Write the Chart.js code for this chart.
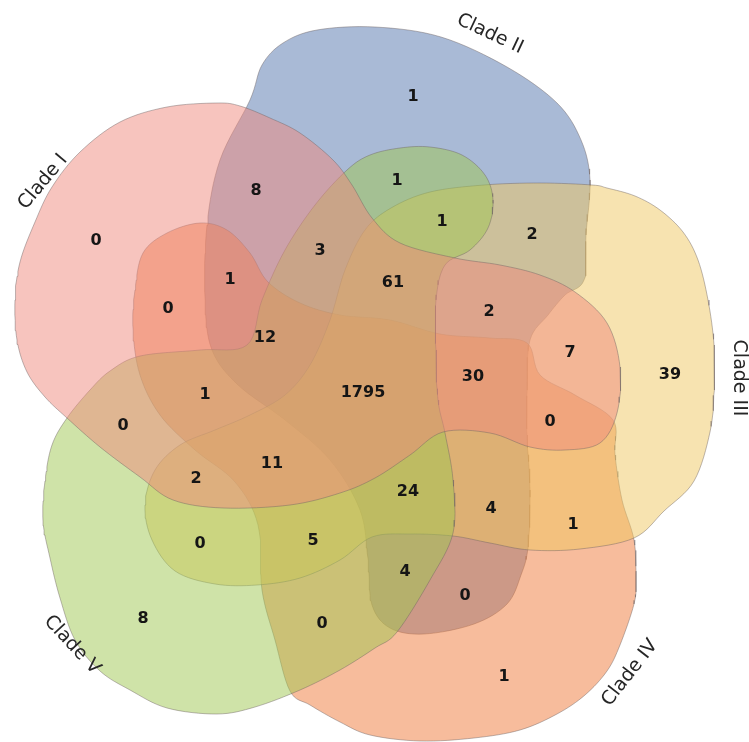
<!DOCTYPE html>
<html><head><meta charset="utf-8">
<script src="https://cdn.jsdelivr.net/npm/chart.js"></script>
<style>html,body{margin:0;padding:0;background:#fff}#wrap{width:749px;height:742px;position:relative}</style>
</head><body><div id="wrap"><canvas id="c" width="749" height="742"></canvas></div>
<script>
// ---- data ----
const setNames = ['Clade I', 'Clade II', 'Clade III', 'Clade IV', 'Clade V'];
const regionMembers = [
  'I', 'II', 'III', 'IV', 'V',
  'I,II', 'II,III', 'III,IV', 'IV,V', 'I,V',
  'I,IV', 'II,V', 'I,III', 'II,IV', 'III,V',
  'I,II,IV', 'II,III,V', 'I,III,IV', 'II,IV,V', 'I,III,V',
  'I,II,V', 'I,II,III', 'II,III,IV', 'III,IV,V', 'I,IV,V',
  'I,II,III,V', 'I,II,III,IV', 'II,III,IV,V', 'I,III,IV,V', 'I,II,IV,V',
  'I,II,III,IV,V'
];
const regionCounts = [
  0, 1, 39, 1, 8,
  8, 2, 1, 0, 0,
  0, 1, 7, 0, 0,
  1, 1, 0, 4, 2,
  3, 2, 4, 5, 1,
  61, 30, 24, 11, 12,
  1795
];

// ---- layout (label anchors, shape outlines, styles) ----
const regionLabelPos = [
  [96,241],[413,97],[670,375],[504,677],[143,619],
  [256,191],[532,235],[573,525],[322,624],[123,426],
  [168,309],[397,181],[570,353],[465,596],[200,544],
  [230,280],[442,222],[550,422],[405,572],[196,479],
  [320,251],[489,312],[491,509],[313,541],[205,395],
  [393,283],[473,377],[408,492],[272,464],[265,338],
  [363,393]
];
const outlineI = [[217,103],[240,106],[270,118],[300,133],[333,160],[352,185],[372,218],[400,243],[455,258],[500,265],[540,275],[575,292],[607,323],[620,367],[617,413],[600,443],[565,450],[530,447],[490,433],[443,432],[410,455],[375,478],[340,493],[290,505],[223,508],[173,500],[140,477],[100,447],[67,418],[45,397],[27,372],[17,340],[15,300],[20,262],[35,222],[52,187],[80,152],[120,122],[167,107]];
const outlineII = [[250,100],[262,65],[283,43],[317,30],[375,27],[441,37],[507,67],[557,103],[581,140],[590,180],[586,235],[584,280],[565,295],[548,315],[530,340],[527,390],[527,435],[530,490],[528,547],[521,575],[507,604],[474,624],[424,634],[390,628],[372,605],[368,560],[360,510],[330,460],[285,420],[238,385],[212,350],[205,300],[207,225],[220,160]];
const outlineIII = [[391,208],[430,192],[484,185],[540,183],[592,185],[607,188],[635,196],[660,210],[683,232],[698,260],[708,300],[714,345],[714,390],[710,432],[694,481],[664,511],[634,538],[580,549],[530,550],[490,543],[453,536],[410,534],[372,537],[340,560],[300,578],[257,585],[215,584],[175,571],[152,540],[145,505],[155,470],[180,445],[215,430],[250,415],[285,395],[310,365],[330,320],[345,270],[365,230]];
const outlineIV = [[143,253],[167,233],[200,223],[227,230],[250,253],[268,282],[300,303],[340,315],[390,320],[440,334],[490,338],[527,343],[540,375],[575,395],[613,420],[615,455],[622,500],[634,540],[636,580],[634,604],[620,645],[607,671],[585,695],[557,714],[520,730],[474,738],[420,741],[370,735],[340,722],[310,705],[290,691],[275,640],[262,590],[258,525],[235,482],[195,450],[160,415],[140,375],[133,330],[135,290]];
const outlineV = [[67,418],[90,390],[110,371],[140,356],[200,350],[247,345],[262,300],[285,250],[315,205],[347,170],[370,155],[400,148],[430,147],[462,155],[485,175],[493,200],[488,228],[470,250],[445,265],[436,300],[436,350],[438,400],[445,433],[453,480],[453,533],[430,580],[397,632],[375,648],[340,670],[300,690],[255,707],[217,714],[167,708],[130,690],[100,671],[75,640],[60,598],[50,558],[43,521],[45,481],[52,445]];
const outlines = [outlineI, outlineII, outlineIII, outlineIV, outlineV];
const setFill = ['rgba(239,137,125,0.5)','rgba(83,117,173,0.5)','rgba(239,199,97,0.5)','rgba(239,121,57,0.5)','rgba(159,199,81,0.5)'];
const setDrawOrder = [1, 5, 3, 4, 2]; // higher drawn first
const setLabelPos = [[43,182],[490,34],[739,378],[630,673],[72,645]];
const setLabelAngle = [-50, 25, 90, -52, 47];

function smoothClosed(pts, steps) {
  const out = [], n = pts.length;
  for (let i = 0; i < n; i++) {
    const p0 = pts[(i - 1 + n) % n], p1 = pts[i], p2 = pts[(i + 1) % n], p3 = pts[(i + 2) % n];
    for (let s = 0; s < steps; s++) {
      const t = s / steps, t2 = t * t, t3 = t2 * t;
      const f = k => 0.5 * (2 * p1[k] + (-p0[k] + p2[k]) * t + (2 * p0[k] - 5 * p1[k] + 4 * p2[k] - p3[k]) * t2 + (-p0[k] + 3 * p1[k] - 3 * p2[k] + p3[k]) * t3);
      out.push({x: f(0), y: f(1)});
    }
  }
  out.push(out[0]);
  return out;
}

const datasets = setNames.map((name, i) => ({
  label: name,
  data: smoothClosed(outlines[i], 8),
  showLine: true,
  fill: 'shape',
  backgroundColor: setFill[i],
  borderColor: 'rgba(110,100,100,0.45)',
  borderWidth: 1,
  pointRadius: 0,
  pointHoverRadius: 0,
  tension: 0,
  order: setDrawOrder[i]
}));

const textPlugin = {
  id: 'vennText',
  afterDatasetsDraw(chart) {
    const {ctx, scales: {x, y}} = chart;
    ctx.save();
    ctx.fillStyle = '#151515';
    ctx.textAlign = 'center';
    ctx.textBaseline = 'middle';
    ctx.font = 'bold 16px "DejaVu Sans", Verdana, sans-serif';
    regionCounts.forEach((c, i) => {
      ctx.fillText(String(c), x.getPixelForValue(regionLabelPos[i][0]), y.getPixelForValue(regionLabelPos[i][1]));
    });
    ctx.font = '19px "DejaVu Sans", Verdana, sans-serif';
    ctx.fillStyle = '#262626';
    setNames.forEach((n, i) => {
      ctx.save();
      ctx.translate(x.getPixelForValue(setLabelPos[i][0]), y.getPixelForValue(setLabelPos[i][1]));
      ctx.rotate(setLabelAngle[i] * Math.PI / 180);
      ctx.fillText(n, 0, 0);
      ctx.restore();
    });
    ctx.restore();
  }
};

new Chart(document.getElementById('c'), {
  type: 'scatter',
  data: {datasets},
  options: {
    responsive: false,
    animation: false,
    devicePixelRatio: 1,
    layout: {padding: 0},
    scales: {
      x: {type: 'linear', min: 0, max: 749, display: false},
      y: {type: 'linear', min: 0, max: 742, reverse: true, display: false}
    },
    plugins: {legend: {display: false}, tooltip: {enabled: false}}
  },
  plugins: [textPlugin]
});
</script>
</body></html>
